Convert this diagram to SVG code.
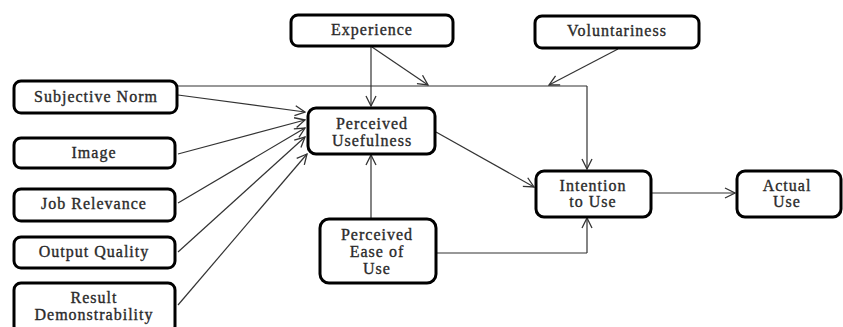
<svg xmlns="http://www.w3.org/2000/svg" width="843" height="327" viewBox="0 0 843 327">
<defs>
<marker id="arr" viewBox="0 0 12 12" refX="11" refY="6" markerWidth="12" markerHeight="12" markerUnits="userSpaceOnUse" orient="auto">
<path d="M1,1 L11,6 L1,11" fill="none" stroke="#333" stroke-width="1.3"/>
</marker>
<style>
.box{fill:#fff;stroke:#000;stroke-width:3}
.t{font-family:"Liberation Serif","Times New Roman",serif;font-size:16px;fill:#2a2a2a;stroke:#2a2a2a;stroke-width:0.35px;text-anchor:middle;letter-spacing:1px}
.c{fill:none;stroke:#333;stroke-width:1.2}
.ca{fill:none;stroke:#333;stroke-width:1.2;marker-end:url(#arr)}
</style>
</defs>
<rect width="843" height="327" fill="#fff"/>
<g id="connectors">
<path class="c" d="M178,86 H587"/>
<path class="ca" d="M587,86 V169"/>
<path class="ca" d="M371,47 V106"/>
<path class="ca" d="M372,47 L428,85"/>
<path class="ca" d="M618,49 L549,85"/>
<path class="ca" d="M178,95 L305,112"/>
<path class="ca" d="M178,154 L305,120"/>
<path class="ca" d="M178,203 L305,128"/>
<path class="ca" d="M178,252 L305,137"/>
<path class="ca" d="M178,305 L307,154"/>
<path class="ca" d="M436,132 L534,187"/>
<path class="ca" d="M371,219 V155"/>
<path class="c" d="M437,253 H587"/>
<path class="ca" d="M587,253 V218"/>
<path class="ca" d="M652,193 H735"/>
</g>
<g id="experience"><rect class="box" x="291" y="15" width="162" height="31" rx="7"/><text class="t" x="372" y="35">Experience</text></g>
<g id="voluntariness"><rect class="box" x="535" y="16" width="164" height="32" rx="7"/><text class="t" x="617" y="36">Voluntariness</text></g>
<g id="subjective-norm"><rect class="box" x="14" y="81" width="163" height="32" rx="7"/><text class="t" x="96" y="102">Subjective Norm</text></g>
<g id="image"><rect class="box" x="14" y="138" width="161" height="30" rx="7"/><text class="t" x="94" y="158">Image</text></g>
<g id="job-relevance"><rect class="box" x="14" y="189" width="161" height="32" rx="7"/><text class="t" x="94" y="209">Job Relevance</text></g>
<g id="output-quality"><rect class="box" x="14" y="237" width="161" height="31" rx="7"/><text class="t" x="94" y="257">Output Quality</text></g>
<g id="result-demonstrability"><rect class="box" x="14" y="283" width="161" height="50" rx="7"/><text class="t" x="94" y="303">Result</text><text class="t" x="94" y="320">Demonstrability</text></g>
<g id="perceived-usefulness"><rect class="box" x="308" y="108" width="127" height="46" rx="8"/><text class="t" x="372" y="129">Perceived</text><text class="t" x="372" y="146">Usefulness</text></g>
<g id="perceived-ease-of-use"><rect class="box" x="320" y="219" width="116" height="64" rx="9"/><text class="t" x="377" y="240">Perceived</text><text class="t" x="377" y="257">Ease of</text><text class="t" x="377" y="274">Use</text></g>
<g id="intention-to-use"><rect class="box" x="536" y="171" width="115" height="46" rx="8"/><text class="t" x="593" y="191">Intention</text><text class="t" x="593" y="207">to Use</text></g>
<g id="actual-use"><rect class="box" x="737" y="171" width="104" height="46" rx="8"/><text class="t" x="787" y="191">Actual</text><text class="t" x="787" y="207">Use</text></g>
</svg>
